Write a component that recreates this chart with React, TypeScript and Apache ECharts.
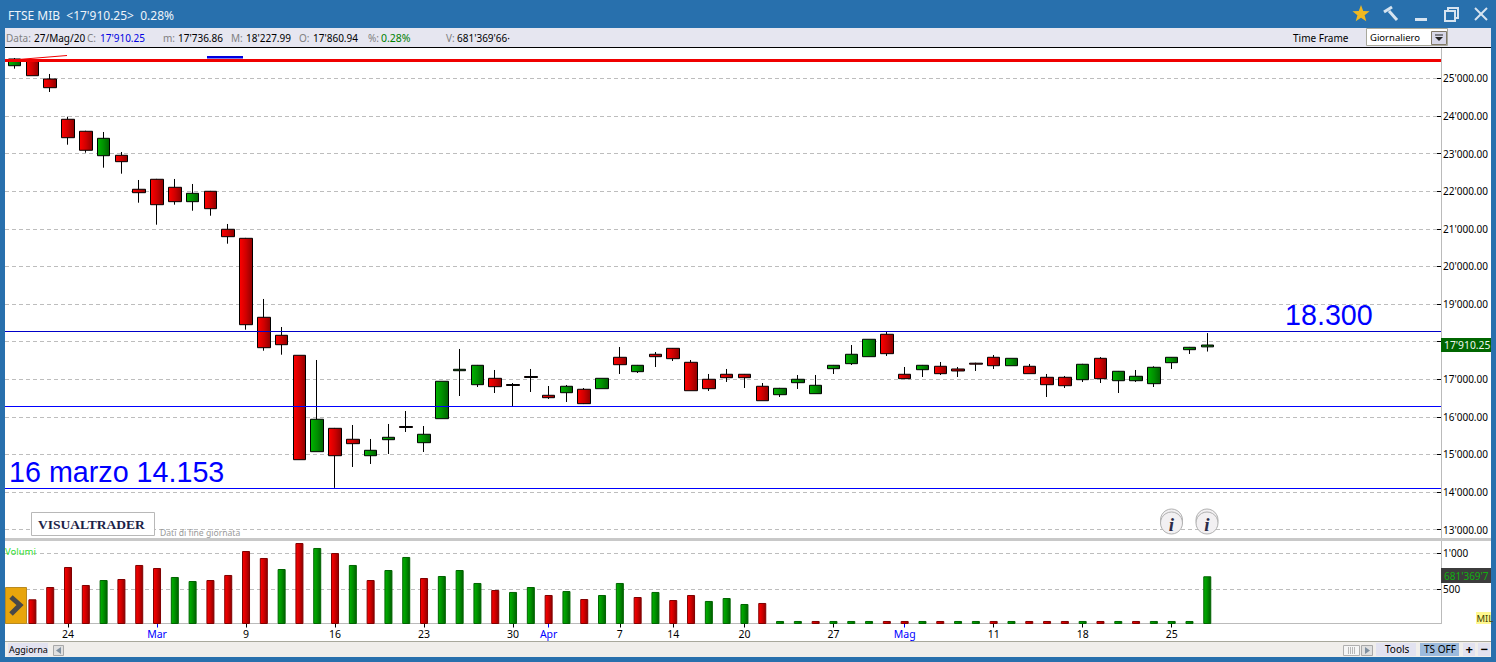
import React, { useEffect, useRef } from "react";
import * as echarts from "echarts";

// [open, close, low, high] for each trading day
const candleValues: number[][] = [
  [25340, 25519, 25261, 25545], [25466, 25074, 25074, 25480], [24987, 24755, 24641, 25120], [23915, 23425, 23239, 23984],
  [23596, 23090, 23026, 23610], [22946, 23409, 22627, 23577], [22957, 22787, 22468, 23045], [22053, 21962, 21696, 22300],
  [22319, 21643, 21111, 22330], [22106, 21723, 21643, 22327], [21723, 21946, 21483, 22194], [22000, 21537, 21350, 22010],
  [20989, 20792, 20606, 21130], [20749, 18451, 18318, 20760], [18648, 17839, 17759, 19135], [18169, 17919, 17653, 18390],
  [17637, 14860, 14860, 17637], [15073, 15935, 15073, 17512], [15695, 14966, 14110, 15705], [15403, 15286, 14666, 15783],
  [14966, 15110, 14746, 15411], [15392, 15456, 15012, 15810], [15743, 15717, 15597, 16155], [15312, 15536, 15065, 15756],
  [15951, 16946, 15951, 16946], [17227, 17265, 16554, 17805], [16855, 17371, 16794, 17380], [17025, 16802, 16634, 17246],
  [16860, 16834, 16288, 16900], [17073, 17047, 16661, 17273], [16573, 16509, 16475, 16820], [16642, 16813, 16395, 16847],
  [16733, 16350, 16340, 16767], [16749, 17025, 16749, 17025], [17584, 17387, 17140, 17858], [17201, 17371, 17166, 17380],
  [17664, 17600, 17326, 17725], [17823, 17547, 17485, 17830], [17451, 16695, 16695, 17512], [16999, 16749, 16687, 17140],
  [17132, 17041, 16927, 17273], [17132, 17041, 16767, 17140], [16813, 16429, 16429, 16900], [16589, 16759, 16528, 16770],
  [16908, 16999, 16741, 17113], [16616, 16839, 16616, 17113], [17281, 17371, 17140, 17380], [17414, 17664, 17379, 17911],
  [17600, 18063, 17600, 18063], [18196, 17680, 17619, 18257], [17132, 17015, 17010, 17326], [17254, 17371, 17060, 17380],
  [17345, 17148, 17113, 17459], [17273, 17220, 17060, 17326], [17427, 17401, 17220, 17440], [17584, 17360, 17273, 17645],
  [17360, 17557, 17360, 17557], [17345, 17148, 17148, 17406], [17052, 16855, 16528, 17140], [17052, 16828, 16767, 17087],
  [16988, 17398, 16927, 17410], [17557, 17015, 16900, 17590], [16961, 17212, 16634, 17220], [16961, 17079, 16927, 17246],
  [16882, 17318, 16794, 17345], [17440, 17584, 17273, 17590], [17786, 17850, 17672, 17860], [17860.94, 17910.25, 17736.86, 18227.99],
];

const volumes: number[] = [
  350, 361, 532, 810, 560, 629, 643, 838, 796, 671, 615, 629, 699, 1032, 935, 782, 1143, 1074, 1004, 838, 629, 768,
  949, 657, 685, 768, 588, 490, 463, 532, 421, 476, 365, 421, 588, 393, 463, 351, 421, 338, 379, 296, 310,
  60, 60, 60, 60, 60, 60, 60, 60, 60, 60, 60, 60, 60, 60, 60, 60, 60, 60, 60, 60, 60, 60, 60, 60, 681,
];
const volumeSides: string =
  "RRRRRGRRRGGRRRRGRGRGRGGRGGGRGGRGRGGRGRRGGGRGGRGGGRRGRGGRGRRRGRGRGGGG";

const priceTicks = [13000, 14000, 15000, 16000, 17000, 18000, 19000, 20000, 21000, 22000, 23000, 24000, 25000];
// 18'000.00 sits under the last-price tag in the reference, so it has a tick but no visible label
const priceLabels = [13000, 14000, 15000, 16000, 17000, 19000, 20000, 21000, 22000, 23000, 24000, 25000];
const volumeTicks = [500, 1000];
const dayTickIndexes = [3, 13, 18, 23, 28, 34, 37, 41, 46, 55, 60, 65];
const dayTickLabels = ["24", "9", "16", "23", "30", "7", "14", "20", "27", "11", "18", "25"];
const monthTickIndexes = [8, 30, 50];
const monthTickLabels = ["Mar", "Apr", "Mag"];

const drawnLevels = [
  { value: 25492, color: "#f00000", width: 3 },
  { value: 18280, color: "#0000c8", width: 1 },
  { value: 16290, color: "#0000ff", width: 1 },
  { value: 14110, color: "#0000ff", width: 1 },
];

const fmtThousands = (v: number) => String(v).replace(/\B(?=(\d{3})+(?!\d))/g, "'");
const UI = "'Noto Sans', sans-serif";
const ARIAL = "'Liberation Sans', sans-serif";
const BLUE = "#2870ad";
const BAR = "#e6e6f0";
const ICON = "#d7e4f0";

const T = (x: number, y: number, text: string, fill: string, fontSize = 11, extra: any = {}) => ({
  type: "text",
  x,
  y,
  z: 100,
  style: { text, fill, font: `${fontSize}px ${UI}`, textVerticalAlign: "middle", ...extra },
});
const R = (x: number, y: number, width: number, height: number, fill: string, stroke?: string, lineWidth = 1) => ({
  type: "rect",
  z: 99,
  shape: { x, y, width, height },
  style: { fill, stroke: stroke || "none", lineWidth },
});
const L = (x1: number, y1: number, x2: number, y2: number, stroke: string, lineWidth = 1) => ({
  type: "line",
  z: 100,
  shape: { x1, y1, x2, y2 },
  style: { stroke, lineWidth },
});
const starPoints = (cx: number, cy: number, r: number) => {
  const pts: number[][] = [];
  for (let i = 0; i < 10; i++) {
    const a = -Math.PI / 2 + (i * Math.PI) / 5;
    const rr = i % 2 ? r * 0.42 : r;
    pts.push([cx + rr * Math.cos(a), cy + rr * Math.sin(a)]);
  }
  return pts;
};
const infoIcon = (cx: number) => [
  { type: "circle", z: 100, shape: { cx: cx, cy: 520, r: 11 }, style: { fill: "#f2f0f2", stroke: "#b0b0b0", lineWidth: 1 } },
  { type: "circle", z: 100, shape: { cx: cx, cy: 523, r: 11 }, style: { fill: "#f2f0f2", stroke: "#b0b0b0", lineWidth: 1 } },
  {
    type: "text", z: 101, x: cx, y: 524,
    style: { text: "i", fill: "#2b2b48", font: "italic bold 19px 'Liberation Serif', serif", textAlign: "center", textVerticalAlign: "middle" },
  },
];

export default function App() {
  const ref = useRef<HTMLDivElement>(null);
  useEffect(() => {
    const chart = echarts.init(ref.current!, undefined, { renderer: "svg" });
    const grad = (a: string, b: string, c: string) =>
      new echarts.graphic.LinearGradient(0, 0, 1, 0, [
        { offset: 0, color: a },
        { offset: 0.5, color: b },
        { offset: 1, color: c },
      ]);
    const redFill = grad("#ff0000", "#d00000", "#8f0000");
    const greenFill = grad("#00b400", "#009000", "#006000");

    const graphics: any[] = [
      // window frame
      R(0, 0, 1496, 28, BLUE),
      R(0, 0, 5, 662, BLUE),
      R(1491, 0, 5, 662, BLUE),
      R(0, 657, 1496, 5, BLUE),
      R(5, 28, 1486, 19, BAR),
      L(5, 47.5, 1491, 47.5, "#000000"),
      T(8, 15, "FTSE MIB  <17'910.25>  0.28%", "#eef4fa", 12),
      // info strip
      T(6, 38, "Data:", "#808080", 10),
      T(34, 38, "27/Mag/20", "#000000", 10),
      T(87, 38, "C:", "#808080", 10),
      T(100, 38, "17'910.25", "#0000e0", 10),
      T(163, 38, "m:", "#808080", 10),
      T(178, 38, "17'736.86", "#000000", 10),
      T(231, 38, "M:", "#808080", 10),
      T(246, 38, "18'227.99", "#000000", 10),
      T(299, 38, "O:", "#808080", 10),
      T(313, 38, "17'860.94", "#000000", 10),
      T(368, 38, "%:", "#808080", 10),
      T(381, 38, "0.28%", "#008000", 10.5),
      T(446, 38, "V:", "#808080", 10),
      T(457, 38, "681'369'66·", "#000000", 10),
      T(1293, 38, "Time Frame", "#000000", 10),
      R(1366.5, 28.5, 81, 17, "#ffffff", "#a8a89c"),
      T(1370, 37, "Giornaliero", "#000000", 9.5),
      R(1431.5, 31.5, 15, 13, "#d8d8e8", "#807868"),
      { type: "polygon", z: 101, shape: { points: [[1435, 37], [1443, 37], [1439, 41]] }, style: { fill: "#222222" } },
      L(1435, 35, 1443, 35, "#222222"),
      // window buttons
      { type: "polygon", z: 100, shape: { points: starPoints(1361, 14, 9) }, style: { fill: "#f0b820" } },
      L(1397, 20, 1389, 11, ICON, 3),
      L(1384, 12, 1392, 7, ICON, 3),
      R(1415, 18, 12, 3, ICON),
      R(1448, 8, 10, 10, "none", ICON, 2),
      R(1445, 11, 10, 10, BLUE, ICON, 2),
      L(1475, 8, 1487, 20, ICON, 2),
      L(1487, 8, 1475, 20, ICON, 2),
      // strokes drawn by hand on the chart
      { type: "polygon", z: 100, shape: { points: [[6, 60], [67, 55], [67, 56], [6, 61]] }, style: { fill: "#f00000" } },
      R(207, 56, 36, 2.5, "#0000e0"),
      // annotations
      T(1285, 315, "18.300", "#0000ff", 28, { font: `28.7px ${ARIAL}` }),
      T(9, 472, "16 marzo 14.153", "#0000ff", 28, { font: `28.7px ${ARIAL}` }),
      // branding
      R(31.5, 512.5, 123, 23, "#ffffff", "#b8b8b8"),
      T(38, 524, "VISUALTRADER", "#1c2348", 13.5, { font: "bold 13.5px 'Liberation Serif', serif" }),
      T(160, 533, "Dati di fine giornata", "#9a9a9a", 8.6),
      ...infoIcon(1171.5),
      ...infoIcon(1207),
      // separator between panels
      R(5, 538, 1486, 3, "#c8c8c8"),
      T(5, 551, "Volumi", "#30e030", 9.5),
      // arrow tab
      R(5.5, 587.5, 21, 36, "#e8a50c", "#b98a20"),
      { type: "polyline", z: 101, shape: { points: [[11, 597], [20, 605], [11, 614]] }, style: { stroke: "#484848", lineWidth: 5, fill: "none" } },
      // price and volume tags
      R(1441, 338, 50, 14, "#006600"),
      T(1444, 345, "17'910.25", "#f0f8f0", 10.3),
      R(1441, 568, 50, 15, "#3c3c3c"),
      T(1444, 576, "681'369'7", "#10b010", 10),
      R(1476, 612, 15, 12, "#fff890"),
      T(1476.5, 618, "MIL", "#444400", 9.5),
      // bottom bar
      R(5, 641, 1486, 16, "#f0eeeb"),
      L(5, 641.5, 1491, 641.5, "#a8a89c"),
      R(8, 643, 40, 13, "#e2e2f0"),
      T(9, 649, "Aggiorna", "#000000", 9),
      R(53.5, 645.5, 10, 10, "#e0e0e0", "#a8a8a8"),
      { type: "polygon", z: 101, shape: { points: [[61, 647], [56, 650.5], [61, 654]] }, style: { fill: "#8090a0" } },
      R(1343.5, 645.5, 16, 10, "#f6f6f6", "#b0b0b0"),
      L(1348.5, 647, 1348.5, 654, "#b8b8b8"),
      L(1350.5, 647, 1350.5, 654, "#b8b8b8"),
      L(1352.5, 647, 1352.5, 654, "#b8b8b8"),
      L(1354.5, 647, 1354.5, 654, "#b8b8b8"),
      R(1361.5, 645.5, 11, 10, "#e0e0e0", "#a8a8a8"),
      { type: "polygon", z: 101, shape: { points: [[1365, 647], [1370, 650.5], [1365, 654]] }, style: { fill: "#8090a0" } },
      R(1376, 643, 40, 13, "#e2e2f0"),
      T(1385, 649, "Tools", "#000000", 10),
      R(1420, 643, 39, 13, "#9dbbdd"),
      T(1424, 649, "TS OFF", "#000000", 10),
      R(1463, 643, 12, 13, "#e2e2f0"),
      T(1465.5, 649, "+", "#000000", 13, { font: `bold 13px ${UI}` }),
      R(1478, 643, 12, 13, "#e2e2f0"),
      T(1480.5, 649, "−", "#000000", 13, { font: `bold 13px ${UI}` }),
    ];

    const xRange = { min: -0.54, max: 80.13 };
    const labelFrom = (v: number) => {
      const d = dayTickIndexes.indexOf(v);
      if (d >= 0) return dayTickLabels[d];
      const m = monthTickIndexes.indexOf(v);
      return m >= 0 ? monthTickLabels[m] : "";
    };

    chart.setOption({
      animation: false,
      backgroundColor: "#ffffff",
      grid: [
        { left: 5, width: 1436, top: 48, height: 490 },
        { left: 5, width: 1436, top: 541, height: 82.5 },
      ],
      xAxis: [
        { type: "value", gridIndex: 0, ...xRange, show: false, splitLine: { show: false } },
        {
          type: "value", gridIndex: 1, ...xRange, position: "bottom",
          splitLine: { show: false },
          axisLine: { show: true, onZero: false, lineStyle: { color: "#bbbbbb", width: 1 } },
          axisTick: { show: true, length: 4, customValues: dayTickIndexes, lineStyle: { color: "#000000" } },
          axisLabel: {
            show: true, customValues: dayTickIndexes, margin: 5, fontSize: 10.5, fontFamily: UI, color: "#000000",
            formatter: labelFrom,
          },
        },
        {
          type: "value", gridIndex: 1, ...xRange, position: "bottom",
          splitLine: { show: false },
          axisLine: { show: false, onZero: false },
          axisTick: { show: true, length: 4, customValues: monthTickIndexes, lineStyle: { color: "#0000ff" } },
          axisLabel: {
            show: true, customValues: monthTickIndexes, margin: 5, fontSize: 10.5, fontFamily: UI, color: "#0000ff",
            formatter: labelFrom,
          },
        },
      ],
      yAxis: [
        {
          type: "value", gridIndex: 0, position: "right", min: 12777, max: 25811,
          axisLine: { show: true, onZero: false, lineStyle: { color: "#bbbbbb", width: 1 } },
          axisTick: { show: true, inside: true, length: 4, customValues: priceTicks, lineStyle: { color: "#000000" } },
          axisLabel: {
            show: true, customValues: priceLabels, margin: 2, fontSize: 10, fontFamily: UI, color: "#000000",
            padding: [2, 0, 0, 0],
            formatter: (v: number) => fmtThousands(v) + ".00",
          },
          splitLine: { show: true, lineStyle: { color: "#bdbdbd", type: [4, 3], width: 1 } },
        },
        {
          type: "value", gridIndex: 1, position: "right", min: 25, max: 1171,
          axisLine: { show: true, onZero: false, lineStyle: { color: "#bbbbbb", width: 1 } },
          axisTick: { show: true, inside: true, length: 4, customValues: volumeTicks, lineStyle: { color: "#000000" } },
          axisLabel: {
            show: true, customValues: volumeTicks, margin: 2, fontSize: 10, fontFamily: UI, color: "#000000",
            padding: [2, 0, 0, 0],
            formatter: (v: number) => fmtThousands(v),
          },
          splitLine: { show: true, lineStyle: { color: "#bdbdbd", type: [4, 3], width: 1 } },
        },
      ],
      series: [
        {
          type: "candlestick",
          xAxisIndex: 0,
          yAxisIndex: 0,
          barWidth: 13,
          itemStyle: {
            color: greenFill,
            color0: redFill,
            borderColor: "#000000",
            borderColor0: "#000000",
            borderColorDoji: "#000000",
            borderWidth: 1,
          },
          data: candleValues.map((c, i) => [i, c[0], c[1], c[2], c[3]]),
          markLine: {
            silent: true,
            symbol: "none",
            label: { show: false },
            data: drawnLevels.map((l) => ({
              yAxis: l.value,
              lineStyle: { color: l.color, width: l.width, type: "solid" },
            })),
          },
        },
        {
          type: "bar",
          xAxisIndex: 1,
          yAxisIndex: 1,
          barWidth: 8,
          data: volumes.map((v, i) => ({
            value: [i, v],
            itemStyle: {
              color: volumeSides[i] === "G" ? greenFill : redFill,
              borderColor: volumeSides[i] === "G" ? "#006400" : "#800000",
              borderWidth: 1,
            },
          })),
        },
      ],
      graphic: { elements: graphics },
    });
    return () => chart.dispose();
  }, []);
  return <div ref={ref} style={{ position: "fixed", left: 0, top: 0, width: 1496, height: 662 }} />;
}
